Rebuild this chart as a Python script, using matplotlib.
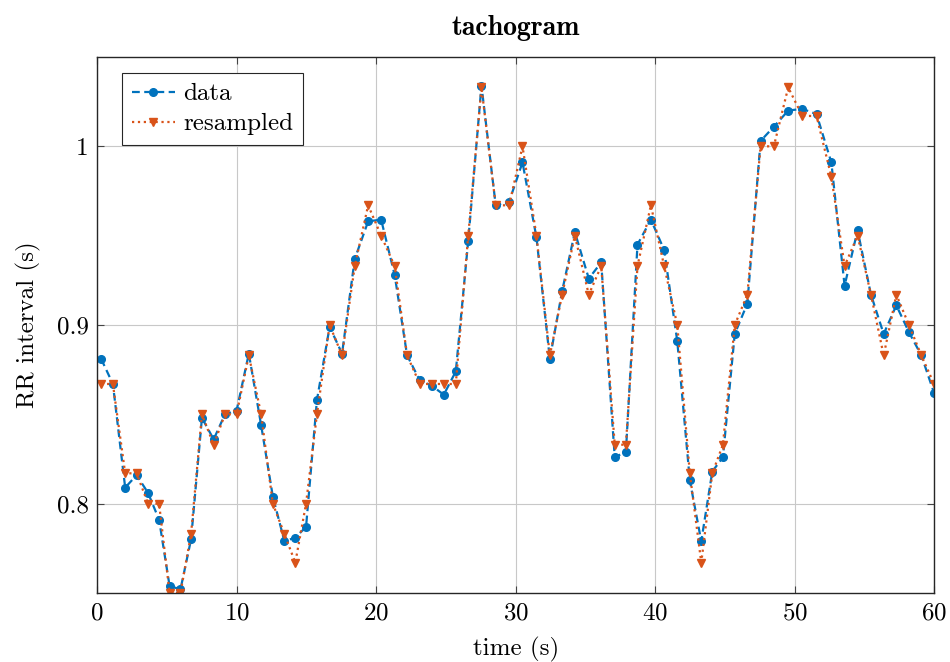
import numpy as np
import matplotlib
matplotlib.use('Agg')
import matplotlib.pyplot as plt

plt.rcParams['font.family']='serif'
plt.rcParams['font.serif']=['cmr10']
plt.rcParams['mathtext.fontset']='cm'
plt.rcParams['axes.formatter.use_mathtext']=True

# beat times (s)
t=[0.30,1.14,2.02,2.84,3.66,4.45,5.20,5.98,6.74,7.52,8.36,9.17,10.00,10.88,11.76,12.60,13.43,14.21,14.98,15.76,
   16.67,17.56,18.47,19.43,20.36,21.33,22.22,23.13,23.99,24.85,25.71,26.60,27.55,28.57,29.53,30.49,31.49,
   32.45,33.33,34.24,35.24,36.13,37.10,37.90,38.73,39.69,40.64,41.58,42.48,43.30,44.09,44.85,45.70,
   46.60,47.55,48.50,49.53,50.54,51.56,52.62,53.57,54.50,55.46,56.37,57.28,58.18,59.07,59.98]

rr=[0.881,0.867,0.809,0.816,0.806,0.791,0.754,0.752,0.780,0.848,0.836,0.850,0.852,0.884,0.844,0.804,0.779,0.781,0.787,0.858,
    0.899,0.884,0.937,0.958,0.959,0.928,0.883,0.869,0.866,0.861,0.874,0.947,1.034,0.967,0.969,0.991,0.949,
    0.881,0.919,0.952,0.926,0.935,0.826,0.829,0.945,0.959,0.942,0.891,0.813,0.779,0.818,0.826,0.895,
    0.912,1.003,1.011,1.020,1.021,1.018,0.991,0.922,0.953,0.917,0.895,0.911,0.896,0.883,0.862]

rr_res=[0.867,0.867,0.817,0.817,0.800,0.800,0.750,0.750,0.783,0.850,0.833,0.850,0.850,0.883,0.850,0.800,0.783,0.767,0.800,0.850,
        0.900,0.883,0.933,0.967,0.950,0.933,0.883,0.867,0.867,0.867,0.867,0.950,1.033,0.967,0.967,1.000,0.950,
        0.883,0.917,0.950,0.917,0.933,0.833,0.833,0.933,0.967,0.933,0.900,0.817,0.767,0.817,0.833,0.900,
        0.917,1.000,1.000,1.033,1.017,1.017,0.983,0.933,0.950,0.917,0.883,0.917,0.900,0.883,0.867]

blue='#0072BD'
orange='#D95319'

fig=plt.figure(figsize=(9.5,6.62),dpi=100)
ax=fig.add_axes([0.1021,0.1042,0.8814,0.8097])

ax.plot(t,rr,'--o',color=blue,lw=1.6,ms=5.5,label='data',dashes=(3.5,2))
ax.plot(t,rr_res,':v',color=orange,lw=1.6,ms=5.5,label='resampled')

ax.set_xlim(0,60)
ax.set_ylim(0.75,1.05)
ax.set_xticks([0,10,20,30,40,50,60])
ax.set_yticks([0.8,0.9,1.0])
ax.set_yticklabels(['0.8','0.9','1'])
ax.grid(True,color='#c8c8c8',lw=0.8)
ax.set_axisbelow(True)
ax.tick_params(direction='in',top=True,right=True,labelsize=18,length=5,color='#444444')
ax.tick_params(axis='x',pad=7)
ax.tick_params(axis='y',pad=6)
for s in ax.spines.values():
    s.set_linewidth(1.0)
    s.set_color('#262626')

ax.set_title('tachogram',fontsize=20,family='cmb10',pad=16)
ax.set_xlabel('time (s)',fontsize=18,labelpad=9)
ax.set_ylabel('RR interval (s)',fontsize=18,labelpad=11)

leg=ax.legend(loc='upper left',bbox_to_anchor=(25/837,1-16/536),borderaxespad=0,fontsize=18,
              fancybox=False,edgecolor='#262626',framealpha=1,
              handlelength=1.7,handletextpad=0.35,borderpad=0.4,labelspacing=0.3)
leg.get_frame().set_linewidth(0.8)

plt.savefig('out.png',dpi=100)
